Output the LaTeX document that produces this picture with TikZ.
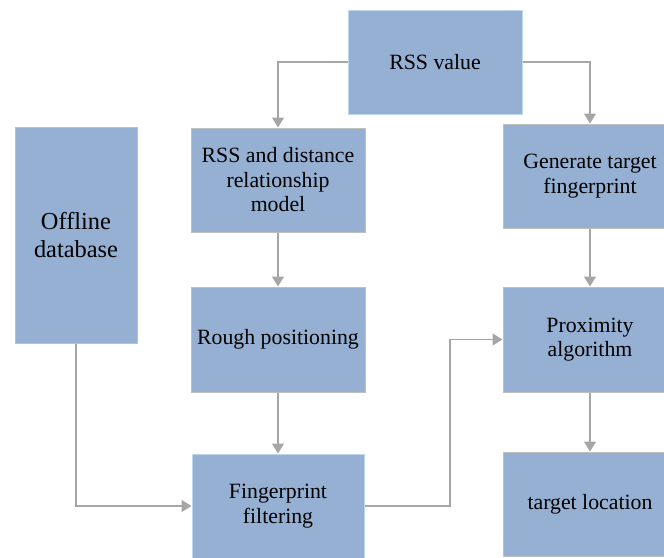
\documentclass[tikz,border=0pt]{standalone}
\usepackage{fontspec}
\setmainfont{Liberation Serif}
\usetikzlibrary{arrows.meta}
\definecolor{boxfill}{RGB}{149,176,210}
\definecolor{boxline}{RGB}{191,191,191}
\definecolor{boxblue}{RGB}{189,215,238}
\definecolor{arrowgray}{RGB}{166,166,166}
\tikzset{
  stage/.style={rectangle,draw=boxline,fill=boxfill,line width=1pt,inner sep=0pt,
    align=center,font=\rmfamily\fontsize{21.8pt}{24.5pt}\selectfont},
  flow/.style={draw=arrowgray,line width=1.3pt,-{Triangle[length=10pt,width=12pt]}}
}
\begin{document}
\begin{tikzpicture}[x=1pt,y=-1pt]
\useasboundingbox (0,0) rectangle (664,557);
\node[stage,draw=boxblue,minimum width=174pt,minimum height=104pt](rss) at (435,62){RSS value};
\node[stage,minimum width=122pt,minimum height=216pt,font=\rmfamily\fontsize{24.4pt}{27.5pt}\selectfont](offline) at (76,235){Offline\\database};
\node[stage,minimum width=174pt,minimum height=104pt](model) at (278,180){RSS and distance\\relationship\\model};
\node[stage,minimum width=174pt,minimum height=104pt](gen) at (590,176){Generate target\\fingerprint};
\node[stage,minimum width=174pt,minimum height=105pt](rough) at (278,339.5){Rough positioning};
\node[stage,minimum width=174pt,minimum height=105pt](prox) at (590,339.5){Proximity\\algorithm};
\node[stage,draw=boxblue,minimum width=172pt,minimum height=104pt](filter) at (278,506){Fingerprint\\filtering};
\node[stage,minimum width=174pt,minimum height=104pt](loc) at (590,504){target location};
\draw[flow] (rss.west) -| (model.north);
\draw[flow] (rss.east) -| (gen.north);
\foreach \from/\to in {model/rough,rough/filter,gen/prox,prox/loc}
 \draw[flow] (\from) -- (\to);
\draw[flow] (offline.south) |- (filter.west);
\coordinate (turn) at (450,506);
\draw[flow] (filter.east) -- (turn) |- (prox.west);
\end{tikzpicture}
\end{document}
